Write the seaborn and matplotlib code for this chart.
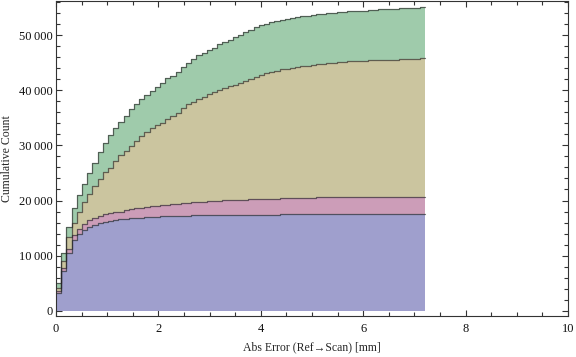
import numpy as np
import pandas as pd
import matplotlib
matplotlib.use("Agg")
import matplotlib.pyplot as plt
from matplotlib.ticker import MultipleLocator
import seaborn as sns

# Cumulative counts: top edge of each stacked band, one value per bin
bin_width = 7.21 / 71

blue_top = [3150, 7150, 10420, 12900, 13900, 14600, 15200, 15600, 15900, 16150,
            16350, 16500, 16600, 16700, 16770, 16800, 16850, 16950, 16950, 17050,
            17100, 17130, 17180, 17200, 17220, 17250] + [17310] * 17 + [17500] * 28

pink_top = [3650, 7700, 11140, 13700, 14900, 15800, 16400, 16900, 17250, 17500,
            17700, 17850, 17970, 18220, 18460, 18590, 18700, 18820, 18950, 19050,
            19130, 19200, 19310, 19400, 19490, 19580, 19670, 19670, 19670, 19860,
            19860, 19860, 20040, 20040, 20040, 20040, 20040, 20220, 20220, 20220,
            20220, 20220, 20220] + [20420] * 7 + [20640] * 21

tan_top = [4200, 8950, 13300, 16000, 17900, 19700, 21200, 22600, 23900, 25200,
           25960, 27170, 28260, 29040, 29950, 30860, 31710, 32400, 33100, 33650,
           34120, 34850, 35340, 35940, 36850, 37520, 37930, 38420, 38840, 39330,
           39640, 40060, 40360, 40700, 40960, 41380, 41690, 42050, 42470, 42830,
           43090, 43320, 43560, 43780, 43870, 44050, 44230, 44410, 44410, 44590,
           44820, 44820, 44900, 44900, 45080, 45080, 45260, 45260, 45260, 45260,
           45450, 45450, 45450, 45560, 45560, 45560, 45680, 45680, 45680, 45680,
           45870]

green_top = [4970, 10450, 15270, 18720, 21060, 23040, 24980, 26760, 28760, 30440,
             31800, 33080, 34200, 35370, 36530, 37500, 38380, 39100, 39900, 40630,
             41360, 42150, 42650, 43300, 44250, 44950, 45630, 46410, 46850, 47350,
             47740, 48350, 48710, 49130, 49620, 50040, 50530, 50950, 51400, 51800,
             52080, 52320, 52570, 52800, 52900, 53120, 53300, 53480, 53490, 53670,
             53900, 53910, 54000, 54090, 54270, 54270, 54450, 54450, 54450, 54460,
             54650, 54650, 54660, 54770, 54770, 54800, 54920, 54940, 54940, 54950,
             55120]

layer_names = ["A", "B", "C", "D"]  # bottom to top
layer_colors = ["#9f9fcd", "#cc9db8", "#cbc59f", "#9fcbab"]

x_ticks = [0, 2, 4, 6, 8, 10]
x_tick_labels = ["0", "2", "4", "6", "8", "10"]
y_ticks = [0, 10000, 20000, 30000, 40000, 50000]
y_tick_labels = ["0", "10\u2009000", "20\u2009000", "30\u2009000", "40\u2009000", "50\u2009000"]

# turn the stacked cumulative tops back into per-bin counts for each band
n = len(blue_top)
centers = (np.arange(n) + 0.5) * bin_width
frames = []
below = np.zeros(n)
for name, top in zip(layer_names, [blue_top, pink_top, tan_top, green_top]):
    band = np.array(top, dtype=float) - below
    frames.append(pd.DataFrame({"err": centers, "count": np.diff(band, prepend=0), "layer": name}))
    below = np.array(top, dtype=float)
df = pd.concat(frames, ignore_index=True)

sns.set_style("ticks")
plt.rcParams["font.family"] = ["Liberation Serif", "DejaVu Serif"]

fig = plt.figure(figsize=(5.76, 3.57), dpi=100)
ax = fig.add_axes([56 / 576, 1 - 315.7 / 357, 512 / 576, 314.7 / 357])

# seaborn stacks the last hue level at the bottom
order = layer_names[::-1]
sns.histplot(data=df, x="err", weights="count", hue="layer", hue_order=order,
             binwidth=bin_width, binrange=(0, n * bin_width), cumulative=True,
             multiple="stack", element="step", fill=True, alpha=1, linewidth=0,
             palette=dict(zip(layer_names, layer_colors)), legend=False, ax=ax)
sns.histplot(data=df, x="err", weights="count", hue="layer", hue_order=order,
             binwidth=bin_width, binrange=(0, n * bin_width), cumulative=True,
             multiple="stack", element="step", fill=False, alpha=0.65, linewidth=0.9,
             palette={k: "#262626" for k in layer_names}, legend=False, ax=ax)

ax.set_xlim(0, 10)
ax.set_ylim(-900, 56200)
ax.set_xticks(x_ticks)
ax.set_xticklabels(x_tick_labels)
ax.set_yticks(y_ticks)
ax.set_yticklabels(y_tick_labels)
ax.xaxis.set_minor_locator(MultipleLocator(0.5))
ax.yaxis.set_minor_locator(MultipleLocator(2000))
ax.tick_params(which="both", direction="in", top=True, right=True,
               color="#333333", width=0.8, labelsize=9, labelcolor="#111111")
ax.tick_params(which="major", length=4.5)
ax.tick_params(which="minor", length=2.8)
ax.tick_params(axis="x", pad=5)
ax.tick_params(axis="y", pad=2.5)
for side in ax.spines.values():
    side.set_linewidth(0.8)
    side.set_color("#333333")

ax.set_xlabel("Abs Error (Ref\u2192Scan) [mm]", fontsize=8.5, labelpad=5)
ax.set_ylabel("Cumulative Count", fontsize=8.5, labelpad=4)

fig.savefig("out.png", dpi=100)
